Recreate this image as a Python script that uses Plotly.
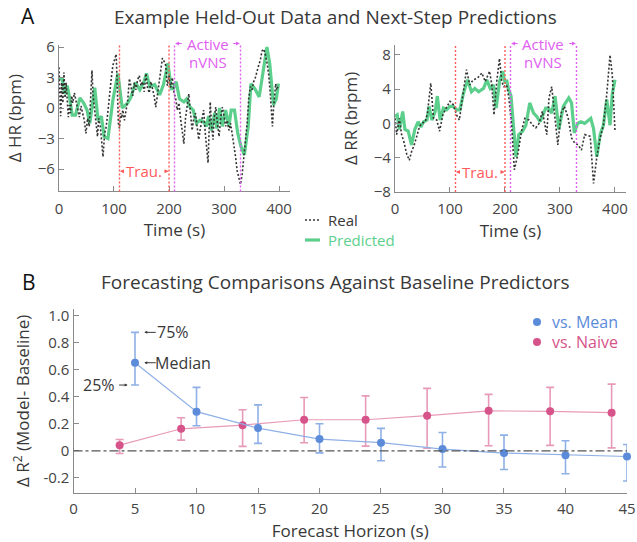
import plotly.graph_objects as go

# ---------------- data ----------------
hr_real_t = [0,2,3,5,7,9,11,13,15,17,19,21,23,25,28,31,34,37,40,43,46,49,52,55,58,60,62,65,68,70,72,75,78,80,83,86,89,92,95,98,101,104,106,108,110,112,114,116,119,122,125,128,131,134,137,140,143,146,149,152,155,158,161,164,167,170,173,176,179,182,185,188,191,194,197,200,203,206,209,212,215,218,221,224,227,230,233,236,239,242,245,248,251,254,257,260,263,266,269,271,273,275,277,280,282,285,288,291,294,297,300,303,306,309,312,315,318,321,324,327,330,333,336,339,342,345,348,351,354,357,360,363,366,369,372,375,378,381,384,386,388,390,392,394,396,398]
hr_real = [4.0,1.0,-0.8,2.5,0.5,3.5,1.0,2.5,0.0,-0.9,0.3,-0.5,1.2,0.5,1.5,0.8,-0.2,-0.9,0.2,-0.5,-1.2,-2.5,-1.0,-1.8,1.5,3.7,1.2,-0.5,-2.0,-2.8,-1.0,-1.8,-3.5,-4.8,-2.5,-1.8,-0.3,1.5,2.9,4.2,4.9,5.3,2.0,-1.5,-2.0,-0.5,-1.0,-0.2,-1.2,-0.3,0.8,2.9,1.8,1.2,2.5,1.8,2.8,3.2,2.2,2.6,1.6,3.4,2.0,1.5,2.6,2.0,1.2,0.1,1.2,2.4,3.3,4.9,4.6,4.2,2.2,3.2,2.0,3.0,1.5,1.0,-0.2,0.5,-1.0,-2.5,-3.5,-1.0,0.5,1.4,-0.5,-2.2,-1.0,-0.5,-1.8,-3.1,-2.0,-1.0,-0.2,-2.5,-4.2,-5.4,-2.0,0.6,-1.5,-3.1,-1.0,0.1,-1.5,-2.8,-1.0,0.1,-0.8,-1.8,-1.2,-2.2,-1.5,-2.5,-3.5,-4.8,-6.2,-7.0,-7.5,-6.5,-5.0,-3.2,-1.5,1.0,2.1,1.8,2.6,3.0,3.7,4.2,4.7,5.6,5.8,5.3,4.5,3.4,1.5,-0.5,-1.8,0.0,1.5,2.4,1.8,2.1]

hr_pred_t = [0,6,10,15,19,24,30,38,45,51,56,65,71,77,82,89,98,107,115,125,131,139,147,154,159,165,174,183,190,198,204,208,213,219,227,232,238,244,250,256,262,268,272,277,283,287,292,297,303,309,313,319,325,331,337,344,349,356,364,371,378,383,390,395,399]
hr_pred = [2.9,2.9,1.4,2.2,1.1,-0.7,-0.7,1.0,0.5,-0.2,-1.5,2.0,-1.2,-0.8,-2.8,-3.0,0.8,3.4,0.0,0.5,1.1,2.5,1.8,2.5,3.4,2.1,2.3,1.3,2.3,4.4,1.9,1.9,2.6,0.9,0.6,0.9,0.1,-0.2,-1.5,-1.2,-1.3,-1.8,-0.8,-2.2,-0.5,-2.0,0.0,-1.8,-0.2,-1.8,-0.2,-0.2,-2.5,-3.8,-4.6,-1.8,2.4,1.9,1.1,3.7,6.0,4.4,0.3,0.9,2.4]

rr_real_t = [0,3,8,12,16,21,26,30,35,39,44,48,55,59,62,65,70,76,81,87,93,100,106,112,117,123,130,136,142,150,158,164,172,176,180,185,190,194,198,203,207,212,217,223,230,236,244,250,256,262,268,276,280,285,291,296,302,308,315,321,327,333,339,345,355,361,367,373,379,385,391,395,400]
rr_real = [0.6,-1.3,0.6,-1.3,-2.1,-3.5,-4.3,-3.3,-2.5,-1.7,-0.5,0.0,0.2,1.2,3.4,4.7,0.6,0.4,-0.9,1.0,1.8,2.6,2.2,1.0,0.4,3.4,6.3,4.5,5.1,5.3,5.9,4.9,6.1,4.5,1.0,4.9,7.6,4.9,4.3,4.5,3.0,-0.2,-5.4,-3.7,-0.9,0.6,0.4,-0.2,-0.5,0.0,1.4,-1.3,3.0,4.3,0.2,-2.5,1.2,2.0,0.6,-1.7,-2.3,-2.5,-3.1,-1.3,-1.5,-7.0,-3.9,-1.7,-0.2,3.4,8.0,5.7,-0.9]

rr_pred_t = [0,4,8,14,18,24,30,36,42,47,52,58,62,67,73,77,82,88,94,100,106,112,118,124,132,139,145,152,161,167,173,179,184,190,196,200,203,206,211,216,220,225,232,238,245,252,258,264,270,274,279,285,291,298,306,310,316,321,326,332,338,345,352,356,361,367,373,379,385,391,395,400]
rr_pred = [0.8,1.0,-0.7,1.4,-0.7,-0.9,-2.5,-0.7,0.2,-0.4,0.2,0.4,2.0,0.4,1.4,3.2,0.4,1.8,1.6,2.0,2.0,1.6,1.6,3.4,5.1,3.7,4.1,3.7,4.1,5.1,4.1,4.5,1.8,4.9,6.1,4.7,5.1,4.1,3.2,-1.1,-3.9,-1.3,-0.9,-0.2,2.4,1.2,0.8,0.2,1.2,1.8,1.8,1.2,3.2,-0.7,2.0,2.4,3.0,2.4,-1.1,0.0,0.2,0.0,0.4,0.6,-0.6,-3.9,-1.3,-0.2,2.8,-0.2,3.4,5.1]

event_times = [110, 200]        # trauma window
vns_times = [210, 330]          # active nVNS window

horizons = [5, 10, 15, 20, 25, 30, 35, 40, 45]
mean_med = [0.652, 0.29, 0.168, 0.087, 0.06, 0.013, -0.017, -0.032, -0.042]
mean_q25 = [0.487, 0.185, 0.055, -0.015, -0.074, -0.12, -0.138, -0.17, -0.224]
mean_q75 = [0.877, 0.47, 0.34, 0.2, 0.166, 0.136, 0.116, 0.074, 0.047]

naive_x = [3.75, 8.75, 13.75, 18.75, 23.75, 28.75, 33.75, 38.75, 43.75]
naive_med = [0.042, 0.163, 0.19, 0.23, 0.23, 0.26, 0.296, 0.292, 0.282]
naive_q25 = [-0.02, 0.079, 0.033, 0.06, 0.035, 0.02, 0.037, 0.04, 0.022]
naive_q75 = [0.084, 0.245, 0.304, 0.395, 0.407, 0.462, 0.418, 0.47, 0.494]

# ---------------- style ----------------
FONT = "Open Sans"
TXT = "#383838"
AX = "#8a8a8a"
GREEN = "#5ccf8c"
REAL = "#333333"
RED = "#ff5a5a"
MAG = "#e060f0"
BLUE = "#5b8bd9"
BLUE_L = "#8fb0e6"
PINK = "#d6548a"
PINK_L = "#e89ab8"
DOT = "2px,2px"

fig = go.Figure()

# top panels
for xa, ya, rt, rv, pt, pv in [("x", "y", hr_real_t, hr_real, hr_pred_t, hr_pred),
                               ("x2", "y2", rr_real_t, rr_real, rr_pred_t, rr_pred)]:
    fig.add_trace(go.Scatter(x=pt, y=pv, mode="lines", xaxis=xa, yaxis=ya,
                             line=dict(color=GREEN, width=3.2), showlegend=False))
    fig.add_trace(go.Scatter(x=rt, y=rv, mode="lines", xaxis=xa, yaxis=ya,
                             line=dict(color=REAL, width=1.6, dash=DOT), showlegend=False))

# bottom panel
fig.add_trace(go.Scatter(
    x=naive_x, y=naive_med, mode="lines+markers", xaxis="x3", yaxis="y3",
    line=dict(color=PINK_L, width=1.2), marker=dict(color=PINK, size=8),
    error_y=dict(type="data", symmetric=False,
                 array=[u - m for u, m in zip(naive_q75, naive_med)],
                 arrayminus=[m - l for m, l in zip(naive_med, naive_q25)],
                 color=PINK_L, thickness=1.6, width=4),
    cliponaxis=False, showlegend=False))
fig.add_trace(go.Scatter(
    x=horizons, y=mean_med, mode="lines+markers", xaxis="x3", yaxis="y3",
    line=dict(color=BLUE_L, width=1.2), marker=dict(color=BLUE, size=8),
    error_y=dict(type="data", symmetric=False,
                 array=[u - m for u, m in zip(mean_q75, mean_med)],
                 arrayminus=[m - l for m, l in zip(mean_med, mean_q25)],
                 color=BLUE_L, thickness=1.6, width=4),
    cliponaxis=False, showlegend=False))

axis_common = dict(showline=True, linecolor=AX, linewidth=1.3, ticks="inside", ticklen=5,
                   tickcolor=AX, tickwidth=1.3, showgrid=False, zeroline=False, automargin=False,
                   tickfont=dict(family=FONT, size=15, color="#444"))
tfont = dict(size=17, color=TXT, family=FONT)

fig.update_layout(
    template="none",
    width=637, height=542, margin=dict(l=0, r=0, t=0, b=0, pad=0), autosize=False,
    paper_bgcolor="white", plot_bgcolor="white",
    font=dict(family=FONT, color=TXT),
    xaxis=dict(domain=[0.0926, 0.4553], range=[0, 420], tickvals=[0, 100, 200, 300, 400], anchor="y",
               ticklabelstandoff=3, title=dict(text="Time (s)", font=tfont, standoff=7), **axis_common),
    yaxis=dict(domain=[0.6467, 0.917], range=[-8.2, 6.2], tickvals=[-6, -3, 0, 3, 6], anchor="x",
               title=dict(text="Δ HR (bpm)", font=tfont, standoff=11), **axis_common),
    xaxis2=dict(domain=[0.6201, 0.9827], range=[0, 420], tickvals=[0, 100, 200, 300, 400], anchor="y2",
                ticklabelstandoff=3, title=dict(text="Time (s)", font=tfont, standoff=7), **axis_common),
    yaxis2=dict(domain=[0.6458, 0.9175], range=[-8, 9.2], tickvals=[-8, -4, 0, 4, 8], anchor="x2",
                title=dict(text="Δ RR (brpm)", font=tfont, standoff=11), **axis_common),
    xaxis3=dict(domain=[0.1154, 0.9843], range=[0, 45], tickvals=[0, 5, 10, 15, 20, 25, 30, 35, 40, 45], anchor="y3",
                ticklabelstandoff=2, title=dict(text="Forecast Horizon (s)", font=tfont, standoff=10), **axis_common),
    yaxis3=dict(domain=[0.091, 0.4299], range=[-0.31, 1.05],
                tickvals=[-0.2, 0, 0.2, 0.4, 0.6, 0.8, 1.0],
                ticktext=["-0.2", "0", "0.2", "0.4", "0.6", "0.8", "1.0"], anchor="x3",
                title=dict(text="Δ R<sup>2</sup> (Model- Baseline)", font=tfont, standoff=9),
                **axis_common),
)

shapes = []
annos = []

# event lines + labels on top panels (label heights in axis-domain fractions)
for xa, ya, yl_trau, yl_act, yl_nvns in [("x", "y", -6.2, 1.01, 0.887), ("x2", "y2", -5.66, 1.008, 0.886)]:
    yd = ya + " domain"
    for t in event_times:
        shapes.append(dict(type="line", xref=xa, yref=yd, x0=t, x1=t, y0=0, y1=1,
                           line=dict(color=RED, width=1.4, dash=DOT)))
    for t in vns_times:
        shapes.append(dict(type="line", xref=xa, yref=yd, x0=t, x1=t, y0=0, y1=1,
                           line=dict(color=MAG, width=1.4, dash=DOT)))
    annos.append(dict(x=155, y=yl_trau, xref=xa, yref=ya, text="Trau.", showarrow=False,
                      xanchor="center", yanchor="middle", font=dict(size=15, color=RED, family=FONT)))
    annos.append(dict(x=110.8, y=yl_trau, xref=xa, yref=ya, ax=121, ay=yl_trau, axref=xa, ayref=ya,
                      text="", showarrow=True, arrowhead=2, arrowsize=0.8, arrowwidth=1, arrowcolor=RED))
    annos.append(dict(x=199.2, y=yl_trau, xref=xa, yref=ya, ax=189, ay=yl_trau, axref=xa, ayref=ya,
                      text="", showarrow=True, arrowhead=2, arrowsize=0.8, arrowwidth=1, arrowcolor=RED))
    annos.append(dict(x=270, y=yl_act, xref=xa, yref=yd, text="Active", showarrow=False,
                      xanchor="center", yanchor="middle", font=dict(size=15, color=MAG, family=FONT)))
    annos.append(dict(x=270, y=yl_nvns, xref=xa, yref=yd, text="nVNS", showarrow=False,
                      xanchor="center", yanchor="middle", font=dict(size=15, color=MAG, family=FONT)))
    annos.append(dict(x=211, y=yl_act, xref=xa, yref=yd, ax=226, ay=yl_act, axref=xa, ayref=yd,
                      text="", showarrow=True, arrowhead=2, arrowsize=0.8, arrowwidth=1, arrowcolor=MAG))
    annos.append(dict(x=329, y=yl_act, xref=xa, yref=yd, ax=314, ay=yl_act, axref=xa, ayref=yd,
                      text="", showarrow=True, arrowhead=2, arrowsize=0.8, arrowwidth=1, arrowcolor=MAG))

# zero reference line on bottom panel
shapes.append(dict(type="line", xref="x3 domain", yref="y3", x0=0, x1=1, y0=0, y1=0,
                   line=dict(color="#555", width=1.3, dash="dashdot")))

# top legend (Real / Predicted)
shapes.append(dict(type="line", xref="paper", yref="paper", x0=305/637, x1=320/637,
                   y0=1-220/542, y1=1-220/542, line=dict(color=REAL, width=1.6, dash=DOT)))
shapes.append(dict(type="line", xref="paper", yref="paper", x0=305/637, x1=320/637,
                   y0=1-240/542, y1=1-240/542, line=dict(color=GREEN, width=3.2)))
annos.append(dict(x=326/637, y=1-220/542, xref="paper", yref="paper", text="Real", showarrow=False,
                  xanchor="left", yanchor="middle", font=dict(size=15, color=TXT, family=FONT)))
annos.append(dict(x=326/637, y=1-240/542, xref="paper", yref="paper", text="Predicted", showarrow=False,
                  xanchor="left", yanchor="middle", font=dict(size=15, color=GREEN, family=FONT)))

# bottom legend (vs. Mean / vs. Naive)
for ypx, col, lab in [(322, BLUE, "vs. Mean"), (342, PINK, "vs. Naive")]:
    shapes.append(dict(type="circle", xref="paper", yref="paper", xsizemode="pixel", ysizemode="pixel",
                       xanchor=537/637, yanchor=1-ypx/542, x0=-4, x1=4, y0=-4, y1=4,
                       fillcolor=col, line=dict(width=0)))
    annos.append(dict(x=550/637, y=1-ypx/542, xref="paper", yref="paper", text=lab, showarrow=False,
                      xanchor="left", yanchor="middle", font=dict(size=16, color=col, family=FONT)))

# quartile guide annotations on first blue point
annos.append(dict(x=horizons[0] + 0.75, y=mean_q75[0], xref="x3", yref="y3", ax=13, ay=0,
                  text="", showarrow=True, arrowhead=2, arrowsize=0.6, arrowwidth=1, arrowcolor=TXT))
annos.append(dict(x=horizons[0] + 0.75, y=mean_med[0], xref="x3", yref="y3", ax=13, ay=0,
                  text="", showarrow=True, arrowhead=2, arrowsize=0.6, arrowwidth=1, arrowcolor=TXT))
annos.append(dict(x=horizons[0] - 0.6, y=mean_q25[0], xref="x3", yref="y3", ax=-10, ay=0,
                  text="", showarrow=True, arrowhead=2, arrowsize=0.6, arrowwidth=1, arrowcolor=TXT))
annos.append(dict(x=horizons[0] + 1.6, y=mean_q75[0], xref="x3", yref="y3", text="75%", showarrow=False,
                  xanchor="left", yanchor="middle", font=dict(size=16, color=TXT, family=FONT)))
annos.append(dict(x=horizons[0] + 1.5, y=mean_med[0], xref="x3", yref="y3", text="Median", showarrow=False,
                  xanchor="left", yanchor="middle", font=dict(size=16, color=TXT, family=FONT)))
annos.append(dict(x=horizons[0] - 1.45, y=mean_q25[0], xref="x3", yref="y3", text="25%", showarrow=False,
                  xanchor="right", yanchor="middle", font=dict(size=16, color=TXT, family=FONT)))

# panel titles and letters
annos.append(dict(x=335/637, y=1-17/542, xref="paper", yref="paper", text="Example Held-Out Data and Next-Step Predictions",
                  showarrow=False, xanchor="center", yanchor="middle", font=dict(size=19, color=TXT, family=FONT)))
annos.append(dict(x=335/637, y=1-282/542, xref="paper", yref="paper", text="Forecasting Comparisons Against Baseline Predictors",
                  showarrow=False, xanchor="center", yanchor="middle", font=dict(size=19, color=TXT, family=FONT)))
annos.append(dict(x=28/637, y=1-16/542, xref="paper", yref="paper", text="A",
                  showarrow=False, xanchor="center", yanchor="middle", font=dict(size=21, color="#111", family=FONT)))
annos.append(dict(x=29/637, y=1-282/542, xref="paper", yref="paper", text="B",
                  showarrow=False, xanchor="center", yanchor="middle", font=dict(size=21, color="#111", family=FONT)))

fig.update_layout(shapes=shapes, annotations=annos)
fig.write_html("out.html")
